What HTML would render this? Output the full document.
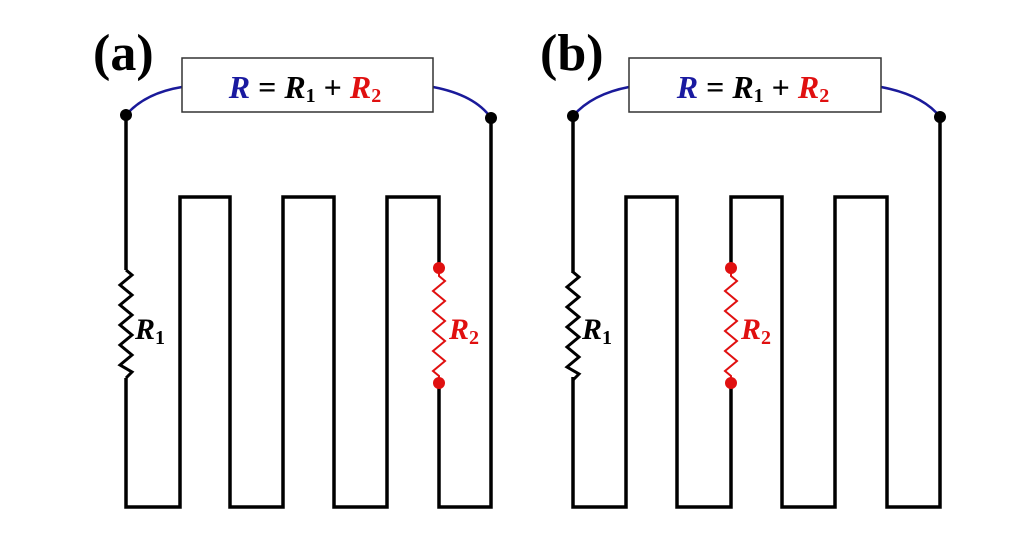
<!DOCTYPE html>
<html><head><meta charset="utf-8"><style>
html,body{margin:0;padding:0;background:#fff;}
svg{display:block;}
text{font-family:"Liberation Serif",serif;font-weight:bold;}
</style></head><body>
<svg width="1024" height="549" viewBox="0 0 1024 549" xmlns="http://www.w3.org/2000/svg">
<defs>
<g id="r1">
<polyline fill="none" stroke="#000" stroke-width="3" points="0,270 6,275 -6,285 6,295 -6,305 6,315 -6,325 6,335 -6,345 6,355 -6,365 6,372 0,378"/>
</g>
<g id="r2">
<polyline fill="none" stroke="#e01010" stroke-width="2" points="0,268 0,276 6,281 -6,291 6,301 -6,311 6,321 -6,331 6,341 -6,351 6,361 -6,371 0,376 0,383"/>
<circle cx="0" cy="268" r="6" fill="#e01010"/>
<circle cx="0" cy="383" r="6" fill="#e01010"/>
</g>
</defs>

<!-- (a) -->
<text x="93" y="70" font-size="52">(a)</text>
<path d="M126,115 V270 M126,378 V507 H180 V197 H230 V507 H283 V197 H334 V507 H387 V197 H439 V268 M439,383 V507 H491 V118" fill="none" stroke="#000" stroke-width="3.5"/>
<use href="#r1" x="126"/>
<use href="#r2" x="439"/>
<path d="M126,115 Q145,93 182,87" fill="none" stroke="#1a1a9a" stroke-width="2.5"/>
<path d="M433,87 Q475,95 491,118" fill="none" stroke="#1a1a9a" stroke-width="2.5"/>
<circle cx="126" cy="115" r="6" fill="#000"/>
<circle cx="491" cy="118" r="6" fill="#000"/>
<rect x="182" y="58" width="251" height="54" fill="#fff" stroke="#333" stroke-width="1.5"/>
<text x="305" y="98" font-size="32" font-style="italic" text-anchor="middle"><tspan fill="#1a1aa0">R</tspan><tspan fill="#000" font-style="normal"> = </tspan><tspan fill="#000">R</tspan><tspan fill="#000" font-size="20" dy="4" font-style="normal">1</tspan><tspan fill="#000" dy="-4" font-style="normal"> + </tspan><tspan fill="#e01010">R</tspan><tspan fill="#e01010" font-size="20" dy="4" font-style="normal">2</tspan></text>
<text x="135" y="339" font-size="30" font-style="italic" fill="#000">R<tspan font-size="20" dy="5" font-style="normal">1</tspan></text>
<text x="449" y="339" font-size="30" font-style="italic" fill="#e01010">R<tspan font-size="20" dy="5" font-style="normal">2</tspan></text>

<!-- (b) -->
<text x="540" y="70" font-size="52">(b)</text>
<path d="M573,116 V273 M573,377 V507 H626 V197 H677 V507 H731 V383 M731,268 V197 H782 V507 H835 V197 H887 V507 H940 V117" fill="none" stroke="#000" stroke-width="3.5"/>
<use href="#r1" x="573" y="2"/>
<use href="#r2" x="731"/>
<path d="M573,116 Q592,94 629,87" fill="none" stroke="#1a1a9a" stroke-width="2.5"/>
<path d="M881,87 Q923,95 940,117" fill="none" stroke="#1a1a9a" stroke-width="2.5"/>
<circle cx="573" cy="116" r="6" fill="#000"/>
<circle cx="940" cy="117" r="6" fill="#000"/>
<rect x="629" y="58" width="252" height="54" fill="#fff" stroke="#333" stroke-width="1.5"/>
<text x="753" y="98" font-size="32" font-style="italic" text-anchor="middle"><tspan fill="#1a1aa0">R</tspan><tspan fill="#000" font-style="normal"> = </tspan><tspan fill="#000">R</tspan><tspan fill="#000" font-size="20" dy="4" font-style="normal">1</tspan><tspan fill="#000" dy="-4" font-style="normal"> + </tspan><tspan fill="#e01010">R</tspan><tspan fill="#e01010" font-size="20" dy="4" font-style="normal">2</tspan></text>
<text x="582" y="339" font-size="30" font-style="italic" fill="#000">R<tspan font-size="20" dy="5" font-style="normal">1</tspan></text>
<text x="741" y="339" font-size="30" font-style="italic" fill="#e01010">R<tspan font-size="20" dy="5" font-style="normal">2</tspan></text>
</svg>
</body></html>
